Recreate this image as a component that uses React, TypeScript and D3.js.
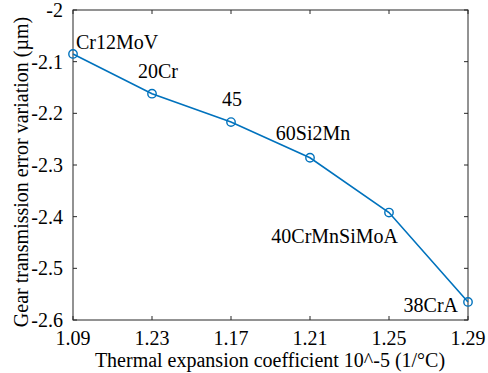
import React from "react";
import * as d3 from "d3";

const xLabels = ["1.09", "1.23", "1.17", "1.21", "1.25", "1.29"];
const materials = ["Cr12MoV", "20Cr", "45", "60Si2Mn", "40CrMnSiMoA", "38CrA"];
const errorVariation = [-2.085, -2.162, -2.217, -2.286, -2.392, -2.565];
const yTicks = [-2, -2.1, -2.2, -2.3, -2.4, -2.5, -2.6];

// annotation placement relative to each point: [dx, dy, anchor]
const labelPlacement: [number, number, string][] = [
  [3, -5, "start"],
  [6, -16, "middle"],
  [1, -16, "middle"],
  [3, -18, "middle"],
  [9, 30, "end"],
  [-10, 10, "end"],
];

const W = 488;
const H = 373;
const margin = { left: 73, right: 20, top: 10, bottom: 53 };
const FONT = "'Liberation Serif', 'Times New Roman', Times, serif";
const AXIS = "#262626";
const LINE = "#0072BD";
const ts: React.CSSProperties = { fontFamily: FONT, fontSize: 20 };

export default function App() {
  const x = d3
    .scalePoint<string>()
    .domain(xLabels)
    .range([margin.left, W - margin.right])
    .padding(0);
  const y = d3
    .scaleLinear()
    .domain([-2.6, -2])
    .range([H - margin.bottom, margin.top]);

  const pts = errorVariation.map((v, i) => [x(xLabels[i])!, y(v)] as [number, number]);
  const line = d3.line()(pts);
  const x0 = margin.left;
  const x1 = W - margin.right;
  const y0 = H - margin.bottom;
  const y1 = margin.top;
  const tl = 4;

  return (
    <svg
      width={W}
      height={H}
      style={{ position: "absolute", left: 0, top: 0, background: "#fff" }}
    >
      {/* box */}
      <rect x={x0} y={y1} width={x1 - x0} height={y0 - y1} fill="none" stroke={AXIS} strokeWidth={1} />
      {/* x ticks */}
      {xLabels.map((l) => (
        <g key={l}>
          <line x1={x(l)} x2={x(l)} y1={y0} y2={y0 - tl} stroke={AXIS} />
          <line x1={x(l)} x2={x(l)} y1={y1} y2={y1 + tl} stroke={AXIS} />
          <text x={x(l)} y={y0 + 25} textAnchor="middle" style={ts} fill="#000">
            {l}
          </text>
        </g>
      ))}
      {/* y ticks */}
      {yTicks.map((t) => (
        <g key={t}>
          <line x1={x0} x2={x0 + tl} y1={y(t)} y2={y(t)} stroke={AXIS} />
          <line x1={x1} x2={x1 - tl} y1={y(t)} y2={y(t)} stroke={AXIS} />
          <text x={x0 - 10} y={y(t)} dy="0.35em" textAnchor="end" style={ts} fill="#000">
            {String(t)}
          </text>
        </g>
      ))}
      {/* axis titles */}
      <text x={270} y={367} textAnchor="middle" style={ts} fill="#000">
        Thermal expansion coefficient 10^-5 (1/°C)
      </text>
      <text
        transform={`translate(28,172) rotate(-90)`}
        textAnchor="middle"
        style={ts}
        fill="#000"
      >
        Gear transmission error variation (µm)
      </text>
      {/* line */}
      <path d={line!} fill="none" stroke={LINE} strokeWidth={1.6} />
      {pts.map(([px, py], i) => (
        <circle key={i} cx={px} cy={py} r={4.2} fill="none" stroke={LINE} strokeWidth={1.4} />
      ))}
      {/* annotations */}
      {pts.map(([px, py], i) => (
        <text
          key={materials[i]}
          x={px + labelPlacement[i][0]}
          y={py + labelPlacement[i][1]}
          textAnchor={labelPlacement[i][2] as any}
          style={ts}
          fill="#000"
        >
          {materials[i]}
        </text>
      ))}
    </svg>
  );
}
